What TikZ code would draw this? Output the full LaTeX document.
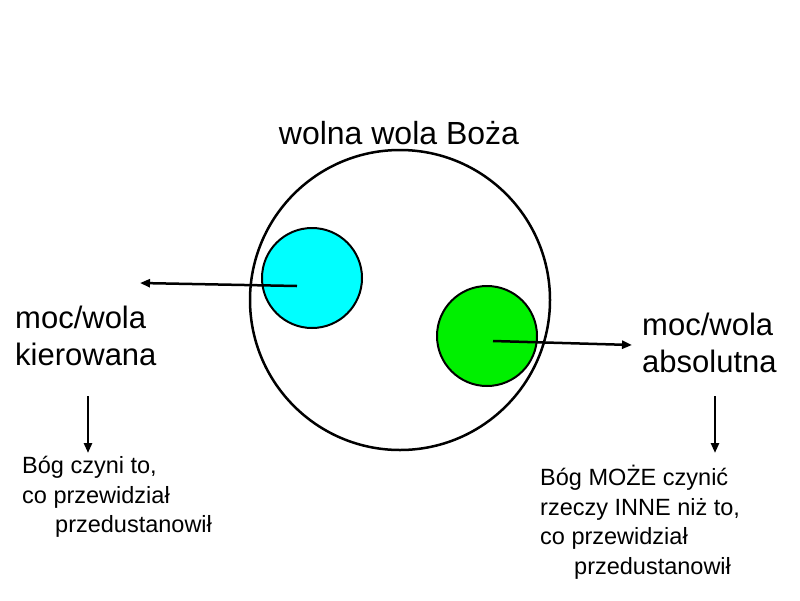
\documentclass[tikz,border=0pt]{standalone}
\usepackage{fontspec}
\setmainfont{Liberation Sans}
\usetikzlibrary{arrows.meta}
\definecolor{aqua}{RGB}{0,255,255}
\definecolor{lime}{RGB}{0,240,0}
\begin{document}
\begin{tikzpicture}[x=1pt,y=-1pt,
  ar/.style={line width=2.5pt,-{Triangle[length=10pt,width=8pt]}},
  big/.style={font=\fontsize{31}{37}\selectfont,anchor=west,align=left,inner sep=0},
  small/.style={font=\fontsize{23.5}{29.5}\selectfont,anchor=west,align=left,inner sep=0}]
\useasboundingbox (0,0) rectangle (800,600);
\node[draw,line width=2.5pt,circle,minimum size=300pt] (big) at (400,300) {};
\node[draw,line width=2pt,circle,fill=aqua,minimum size=100pt] (cy) at (312,278) {};
\node[draw,line width=2pt,circle,fill=lime,minimum size=100pt] (gr) at (487,336) {};
\node[font=\fontsize{32}{36}\selectfont,inner sep=0] (t) at (399,133) {wolna wola Boża};
\node[big] (l) at (15,336) {moc/wola\\kierowana};
\node[big] (r) at (642,343) {moc/wola\\absolutna};
\coordinate (c1) at (297,286); \coordinate (e1) at (140,283);
\coordinate (c2) at (493,341); \coordinate (e2) at (632,345);
\draw[ar] (c1) -- (e1);
\draw[ar] (c2) -- (e2);
\coordinate (d1) at (88,396); \coordinate (f1) at (88,453);
\coordinate (d2) at (715,396); \coordinate (f2) at (715,453);
\draw[ar] (d1) -- (f1);
\draw[ar] (d2) -- (f2);
\node[small] (bl) at (22,497) {Bóg czyni to,\\co przewidział\\\hspace*{33pt}przedustanowił};
\node[small] (br) at (540,522) {Bóg MOŻE czynić\\rzeczy INNE niż to,\\co przewidział\\\hspace*{34pt}przedustanowił};
\end{tikzpicture}
\end{document}
